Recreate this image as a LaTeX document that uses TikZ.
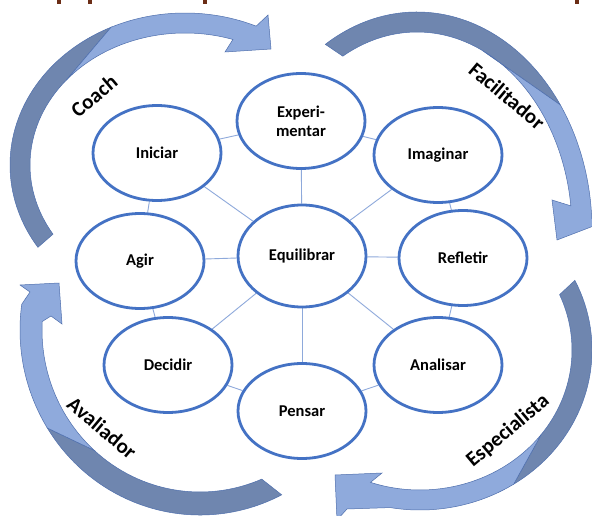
\documentclass[tikz,border=0pt]{standalone}
\usepackage{fontspec}
\setmainfont{Carlito}
\usepackage{tikz}
\usetikzlibrary{calc,backgrounds,shapes.geometric}

\definecolor{borda}{HTML}{4472C4}
\definecolor{linha}{HTML}{8EA9DB}
\definecolor{setaclara}{HTML}{8FAADC}
\definecolor{setaescura}{HTML}{6F86AF}
\definecolor{contorno}{HTML}{4F6FAD}
\definecolor{marrom}{HTML}{6B2D16}

\begin{document}
\begin{tikzpicture}[x=1pt,y=-1pt,
  papel/.style={ellipse, draw=borda, line width=2.8pt, fill=white,
    minimum width=128pt, minimum height=95pt, inner sep=0pt, align=center,
    font=\bfseries\fontsize{16.5}{19}\selectfont},
  liga/.style={draw=linha, line width=0.9pt},
  faixa/.style={font=\bfseries\fontsize{21}{24}\selectfont},
  claro/.style={fill=setaclara, draw=contorno, line width=0.5pt},
  escuro/.style={fill=setaescura, draw=contorno, line width=0.5pt}]
\useasboundingbox (0,0) rectangle (592,516);

% restos do titulo
\fill[marrom] (57,0) rectangle (61,4);
\fill[marrom] (88,0) rectangle (92,4);
\fill[marrom] (203,0) rectangle (207,4);
\fill[marrom] (575,0) rectangle (579,4);

\begin{scope}
\clip (0,0) rectangle (592,516);
% Coach
\coordinate (m1) at (185,165);
\path[escuro] ($(m1)+(147.2:175 and 152)$) arc[start angle=147.2, end angle=245, x radius=175, y radius=152]
  -- ($(m1)+(220:155 and 132)$) arc[start angle=220, end angle=148.4, x radius=155, y radius=132] -- cycle;
\path[claro] ($(m1)+(245:175 and 152)$) arc[start angle=245, end angle=294, x radius=175, y radius=152]
  -- (268,15) -- (271,49) -- (225,52)
  -- ($(m1)+(288:155 and 132)$) arc[start angle=288, end angle=220, x radius=155, y radius=132] -- cycle;
% Facilitador
\coordinate (m2) at (417,230);
\path[escuro] ($(m2)+(238.4:175 and 218)$) arc[start angle=238.4, end angle=325, x radius=175, y radius=218]
  -- ($(m2)+(295:155 and 198)$) arc[start angle=295, end angle=241.4, x radius=155, y radius=198] -- cycle;
\path[claro] ($(m2)+(325:175 and 218)$) arc[start angle=325, end angle=357, x radius=175, y radius=218]
  -- (604,222) -- (557,240) -- (552,200)
  -- ($(m2)+(353:155 and 198)$) arc[start angle=353, end angle=295, x radius=155, y radius=198] -- cycle;
% Especialista
\coordinate (m3) at (420,350);
\path[escuro] ($(m3)+(-25.8:172 and 160)$) arc[start angle=-25.8, end angle=57, x radius=172, y radius=160]
  -- ($(m3)+(37:152 and 140)$) arc[start angle=37, end angle=-23.3, x radius=152, y radius=140] -- cycle;
\path[claro] ($(m3)+(57:172 and 160)$) arc[start angle=57, end angle=100, x radius=172, y radius=160]
  -- (347,509) -- (337,520) -- (335,475) -- (382,473)
  -- ($(m3)+(109:152 and 140)$) arc[start angle=109, end angle=37, x radius=152, y radius=140] -- cycle;
% Avaliador
\coordinate (m4) at (200,330);
\path[escuro] ($(m4)+(63:180 and 185)$) arc[start angle=63, end angle=148, x radius=180, y radius=185]
  -- ($(m4)+(132:158 and 162)$) arc[start angle=132, end angle=67, x radius=158, y radius=162] -- cycle;
\path[claro] ($(m4)+(148:180 and 185)$) arc[start angle=148, end angle=188, x radius=180, y radius=185]
  -- (30,292) -- (20,285) -- (59,283) -- (62,324) -- (51,316)
  -- ($(m4)+(183:158 and 162)$) arc[start angle=183, end angle=132, x radius=158, y radius=162] -- cycle;
\end{scope}

\node[faixa, rotate=40] (coach) at (94,96) {Coach};
\node[faixa, rotate=-40] (facil) at (507,96) {Facilitador};
\node[faixa, rotate=40] (espec) at (508,431) {Especialista};
\node[faixa, rotate=-40] (aval) at (102,428) {Avaliador};

\node[papel, minimum height=102pt] (equi) at (302,256) {Equilibrar};
\node[papel] (exp) at (301,121) {Experi-\\mentar};
\node[papel] (ini) at (157,153) {Iniciar};
\node[papel] (ima) at (438,155) {Imaginar};
\node[papel] (agir) at (140,261) {Agir};
\node[papel] (ref) at (463,258) {Refletir};
\node[papel] (dec) at (168,365) {Decidir};
\node[papel] (ana) at (438,365) {Analisar};
\node[papel] (pen) at (302,411) {Pensar};

\begin{scope}[on background layer]
\fill[white] (0,0) rectangle (592,516);
\foreach \n in {exp,ima,ref,ana,pen,dec,agir,ini}
  \draw[liga] (equi) -- (\n);
\foreach \a/\b in {exp/ima,ima/ref,ref/ana,ana/pen,pen/dec,dec/agir,agir/ini,ini/exp}
  \draw[liga] (\a) -- (\b);
\end{scope}
\end{tikzpicture}
\end{document}
